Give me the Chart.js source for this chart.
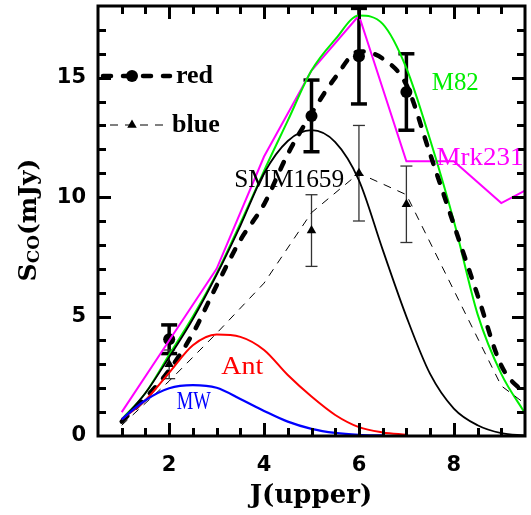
<!DOCTYPE html>
<html><head><meta charset="utf-8">
<script src="https://cdn.jsdelivr.net/npm/chart.js@4/dist/chart.umd.min.js"></script>
<style>html,body{margin:0;padding:0;background:#fff}#c{display:block}</style>
</head><body>
<canvas id="c" width="531" height="515"></canvas>
<script>
// ---- data ----
const halfJ   = [1,1.5,2,2.5,3,3.5,4,4.5,5,5.5,6,6.5,7,7.5,8,8.5,9,9.5];
const smm1659 = [0.65,1.8,3.3,4.9,6.75,8.8,11.0,12.35,12.8,12.3,10.7,7.8,5.0,2.6,1.15,0.45,0.12,0.02];
const m82     = [0.7,1.8,3.4,5.0,6.8,8.9,11.1,13.2,15.3,16.6,17.6,17.25,15.4,12.4,9.0,5.1,2.6,0.95];
const redModel= [0.6,1.6,2.75,4.3,6.3,8.2,9.7,11.8,13.5,15.0,16.1,15.8,14.7,11.8,8.85,5.9,2.95,1.75];
const antJ    = [1,1.5,2,2.5,3,3.5,4,4.5,5,5.5,6,6.5,7];
const ant     = [0.7,1.5,2.65,3.8,4.25,4.15,3.6,2.55,1.65,0.88,0.37,0.15,0.05];
const mwJ     = [1,1.5,2,2.5,3,3.5,4,4.5,5,5.5,6,6.5];
const mw      = [0.7,1.5,2.0,2.13,2.02,1.55,1.05,0.6,0.3,0.13,0.05,0.02];
const intJ    = [1,2,3,4,5,6,7,8,9,10];
const mrk231  = [1.0,4.0,7.0,11.7,15.3,17.6,11.5,11.5,9.75,10.8];
const blueModel=[0.45,2.3,4.3,6.4,9.35,11.0,10.1,6.1,2.1,0.6];
const obsJ    = [2,5,6,7];
const redObs  = [4.05,13.4,15.9,14.4];
const redErr  = [0.6,1.5,2.0,1.6];
const blueObs = [3.0,8.6,11.0,9.7];
const blueErr = [0.6,1.5,2.0,1.6];
const xTickVals = [2,4,6,8];
const yTickVals = [0,5,10,15];
const xMinorVals = [1,1.5,2,2.5,3,3.5,4,4.5,5,5.5,6,6.5,7,7.5,8,8.5,9];
const yMinorVals = [1,2,3,4,5,6,7,8,9,10,11,12,13,14,15,16,17];
const curveNames = ['M82','Mrk231','SMM1659','Ant','MW'];
const legendNames = ['red','blue'];

const pts = (xs, ys) => xs.map((v,i)=>({x:v, y:ys[i]}));

// ---- label placement (data coords) & styling ----
const curveLabels = [
  {t:curveNames[0], x:8.03, y:14.79, w:47, c:'#00ee00'},
  {t:curveNames[1], x:8.55, y:11.67, w:87, c:'#ff00ff'},
  {t:curveNames[2], x:4.53, y:10.74, w:110, c:'#000'},
  {t:curveNames[3], x:3.54, y:2.9,  w:42, c:'#ff0000'},
  {t:curveNames[4], x:2.52, y:1.46, w:34, c:'#0000ff'}
];

function drawTri(ctx, x, y, r){
  ctx.beginPath();
  ctx.moveTo(x, y - r);
  ctx.lineTo(x + r*0.866, y + r*0.5);
  ctx.lineTo(x - r*0.866, y + r*0.5);
  ctx.closePath(); ctx.fill();
}
function seg(ctx, x1, y1, x2, y2){
  ctx.beginPath(); ctx.moveTo(x1,y1); ctx.lineTo(x2,y2); ctx.stroke();
}

const deco = {
  id:'deco',
  beforeDatasetsDraw(chart){
    const {ctx, scales:{x,y}} = chart;
    ctx.save();
    ctx.setLineDash([]);
    ctx.strokeStyle = '#000'; ctx.lineCap = 'butt';
    ctx.lineWidth = 3.5;
    obsJ.forEach((j,i)=>{
      const px = x.getPixelForValue(j);
      const y1 = y.getPixelForValue(redObs[i]-redErr[i]);
      const y2 = y.getPixelForValue(redObs[i]+redErr[i]);
      seg(ctx,px,y1,px,y2); seg(ctx,px-8,y1,px+8,y1); seg(ctx,px-8,y2,px+8,y2);
    });
    ctx.lineWidth = 1.3; ctx.strokeStyle='#333';
    obsJ.forEach((j,i)=>{
      const px = x.getPixelForValue(j);
      const y1 = y.getPixelForValue(blueObs[i]-blueErr[i]);
      const y2 = y.getPixelForValue(blueObs[i]+blueErr[i]);
      seg(ctx,px,y1,px,y2); seg(ctx,px-6,y1,px+6,y1); seg(ctx,px-6,y2,px+6,y2);
    });
    ctx.restore();
  },
  afterDraw(chart){
    const {ctx, chartArea:a, scales:{x,y}} = chart;
    ctx.save();
    ctx.setLineDash([]);
    ctx.globalAlpha = 1;
    ctx.globalCompositeOperation = 'source-over';
    ctx.fillStyle='#000'; ctx.strokeStyle='#000';

    // frame
    ctx.lineWidth = 3;
    ctx.strokeRect(a.left, a.top, a.right - a.left, a.bottom - a.top);

    // inward tick marks on all four sides
    const tw = 3;
    xMinorVals.forEach(v=>{
      const px = Math.round(x.getPixelForValue(v));
      const len = xTickVals.includes(v) ? 13 : 8;
      ctx.fillRect(px - 1, a.bottom - len, tw, len);
      ctx.fillRect(px - 1, a.top, tw, len);
    });
    yMinorVals.forEach(v=>{
      const py = Math.round(y.getPixelForValue(v));
      const len = yTickVals.includes(v) ? 13 : 8;
      ctx.fillRect(a.left, py - 1, len, tw);
      ctx.fillRect(a.right - len, py - 1, len, tw);
    });

    // legend
    const ly1 = 76, ly2 = 125;
    ctx.lineWidth=4.5; ctx.lineCap='round'; ctx.setLineDash([8,12]);
    seg(ctx,103,ly1,170,ly1);
    ctx.beginPath(); ctx.arc(132,ly1,6,0,Math.PI*2); ctx.fill();
    ctx.lineWidth=1; ctx.lineCap='butt'; ctx.setLineDash([8,7]);
    seg(ctx,110,ly2,166,ly2);
    ctx.setLineDash([]);
    drawTri(ctx,132,ly2,5.5);
    ctx.font='bold 26px "Liberation Serif"'; ctx.textAlign='left'; ctx.textBaseline='middle';
    ctx.fillText(legendNames[0], 176, ly1);
    ctx.fillText(legendNames[1], 172, ly2);

    // curve labels
    curveLabels.forEach(l=>{
      ctx.save();
      ctx.font='25px "Liberation Serif"'; ctx.fillStyle=l.c;
      ctx.textAlign='center'; ctx.textBaseline='middle';
      const m = ctx.measureText(l.t).width;
      ctx.translate(x.getPixelForValue(l.x), y.getPixelForValue(l.y)+1);
      ctx.scale(l.w/m,1);
      ctx.fillText(l.t,0,0);
      ctx.restore();
    });

    // x title
    ctx.fillStyle='#000';
    ctx.font='bold 26px "DejaVu Serif"'; ctx.textAlign='center'; ctx.textBaseline='alphabetic';
    ctx.fillText('J(upper)', 311, 503);

    // y title  S_CO(mJy)
    ctx.save();
    ctx.translate(36, 220); ctx.rotate(-Math.PI/2);
    const big='bold 25px "DejaVu Serif"', small='bold 17px "DejaVu Serif"';
    ctx.font=big; const wS=ctx.measureText('S').width, wT=ctx.measureText('(mJy)').width;
    ctx.font=small; const wC=ctx.measureText('CO').width;
    let sx = -(wS+wC+wT)/2;
    ctx.textAlign='left'; ctx.textBaseline='alphabetic';
    ctx.font=big; ctx.fillText('S', sx, 0); sx+=wS;
    ctx.font=small; ctx.fillText('CO', sx, 3); sx+=wC;
    ctx.font=big; ctx.fillText('(mJy)', sx, 0);
    ctx.restore();

    ctx.restore();
  }
};

const tickFont = {family:'DejaVu Sans', weight:'bold', size:21};

new Chart(document.getElementById('c'), {
  type:'line',
  data:{datasets:[
    {data:pts(mwJ,mw), borderColor:'#0000ff', borderWidth:2.3, cubicInterpolationMode:'monotone'},
    {data:pts(antJ,ant), borderColor:'#ff0000', borderWidth:2, cubicInterpolationMode:'monotone'},
    {data:pts(halfJ,smm1659), borderColor:'#000', borderWidth:1.8, cubicInterpolationMode:'monotone'},
    {data:pts(intJ,blueModel), borderColor:'#000', borderWidth:1, borderDash:[8,7], tension:0},
    {data:pts(halfJ,redModel), borderColor:'#000', borderWidth:4.5, borderDash:[8,12], borderCapStyle:'round', cubicInterpolationMode:'monotone'},
    {data:pts(halfJ,m82), borderColor:'#00ee00', borderWidth:2, cubicInterpolationMode:'monotone'},
    {data:pts(intJ,mrk231), borderColor:'#ff00ff', borderWidth:2, tension:0},
    {data:pts(obsJ,redObs), showLine:false, pointStyle:'circle', pointRadius:6, pointBackgroundColor:'#000', pointBorderColor:'#000', pointBorderWidth:0},
    {data:pts(obsJ,blueObs), showLine:false, pointStyle:'triangle', pointRadius:5.5, pointBackgroundColor:'#000', pointBorderColor:'#000', pointBorderWidth:0}
  ]},
  options:{
    responsive:false, animation:false, devicePixelRatio:1,
    layout:{padding:{top:5,right:0,left:0,bottom:0}},
    plugins:{legend:{display:false}, tooltip:{enabled:false}},
    elements:{point:{radius:0}, line:{fill:false}},
    scales:{
      x:{type:'linear', min:0.5, max:9.5,
         grid:{display:false, drawTicks:false}, border:{display:false},
         afterBuildTicks:s=>{s.ticks = xTickVals.map(v=>({value:v}));},
         afterFit:s=>{s.height=79; s.paddingLeft=0; s.paddingRight=0;},
         ticks:{font:tickFont, color:'#000', padding:17, maxRotation:0, autoSkip:false, callback:v=>String(v)}},
      y:{type:'linear', min:0, max:18,
         grid:{display:false, drawTicks:false}, border:{display:false},
         afterBuildTicks:s=>{s.ticks = yTickVals.map(v=>({value:v}));},
         afterFit:s=>{s.width=98; s.paddingTop=0; s.paddingBottom=0;},
         ticks:{font:tickFont, color:'#000', padding:12, autoSkip:false, callback:v=>String(v)}}
    }
  },
  plugins:[deco]
});
</script>
</body></html>
